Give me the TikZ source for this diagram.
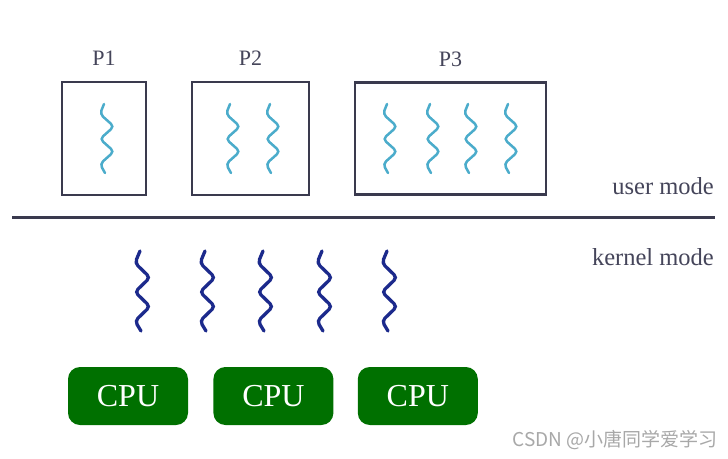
\documentclass[tikz,border=0pt]{standalone}
\usepackage{fontspec}
\setmainfont{Liberation Serif}
\newfontfamily\cjk{Noto Sans CJK SC}
\usetikzlibrary{positioning}
\definecolor{frame}{HTML}{3A3A4E}
\definecolor{uthr}{HTML}{4BACCB}
\definecolor{kthr}{HTML}{1C2A8C}
\definecolor{cpugreen}{HTML}{007000}
\definecolor{txt}{HTML}{45455A}
\definecolor{wmgray}{HTML}{A8A8A8}

\begin{document}
\begin{tikzpicture}[
  x=1pt, y=-1pt,
  proc/.style={rectangle, draw=frame, line width=2.5pt, inner sep=0pt, outer sep=0pt},
  plabel/.style={font=\fontsize{22}{22}\selectfont, text=txt, inner sep=0pt},
  modelabel/.style={font=\fontsize{24.5}{24.5}\selectfont, text=txt, inner sep=0pt, anchor=base east},
  cpu/.style={rectangle, rounded corners=12pt, fill=cpugreen, text=white, minimum width=120pt, minimum height=58pt, font=\fontsize{32}{32}\selectfont},
  uthread/.style={draw=uthr, line width=2.5pt, rounded corners=4pt, line cap=round},
  kthread/.style={draw=kthr, line width=3.3pt, rounded corners=4pt, line cap=round},
]
\path[fill=white, use as bounding box] (0,0) rectangle (728,458);

% processes
\node[proc, minimum width=84pt, minimum height=113pt] (p1) at (104,138.5) {};
\node[proc, minimum width=117pt, minimum height=113pt, right=46pt of p1] (p2) {};
\node[proc, minimum width=191pt, minimum height=112pt, right=46pt of p2] (p3) {};
\node[plabel, above=16pt of p1] (l1) {P1};
\node[plabel, above=16pt of p2] (l2) {P2};
\node[plabel, above=16pt of p3] (l3) {P3};

% user threads
\foreach \x in {104,230,270,387,430,468,508}
  \draw[uthread] (\x,104) -- ++(-4,10) -- ++(14,12.5) -- ++(-14,12.5) -- ++(14,12.5) -- ++(-14,12.5) -- ++(5,9);

% mode boundary
\coordinate (sepL) at (12,217);
\coordinate (sepR) at (715,217);
\draw[frame, line width=3pt] (sepL) -- (sepR);
\node[modelabel] (umode) at (714,194) {user mode};
\node[modelabel] (kmode) at (714,265) {kernel mode};

% kernel threads
\foreach \x in {140,205,263,322,387}
  \draw[kthread] (\x,251) -- ++(-5,12) -- ++(15,14.5) -- ++(-15,14.5) -- ++(15,14.5) -- ++(-15,14.5) -- ++(6,10);

% processors
\node[cpu] (cpu1) at (128,396) {CPU};
\node[cpu, right=25pt of cpu1] (cpu2) {CPU};
\node[cpu, right=24pt of cpu2] (cpu3) {CPU};

\node[font=\cjk\fontsize{19}{19}\selectfont, text=wmgray, anchor=east, inner sep=0pt] (wm) at (718,440) {CSDN @小唐同学爱学习};
\end{tikzpicture}
\end{document}
